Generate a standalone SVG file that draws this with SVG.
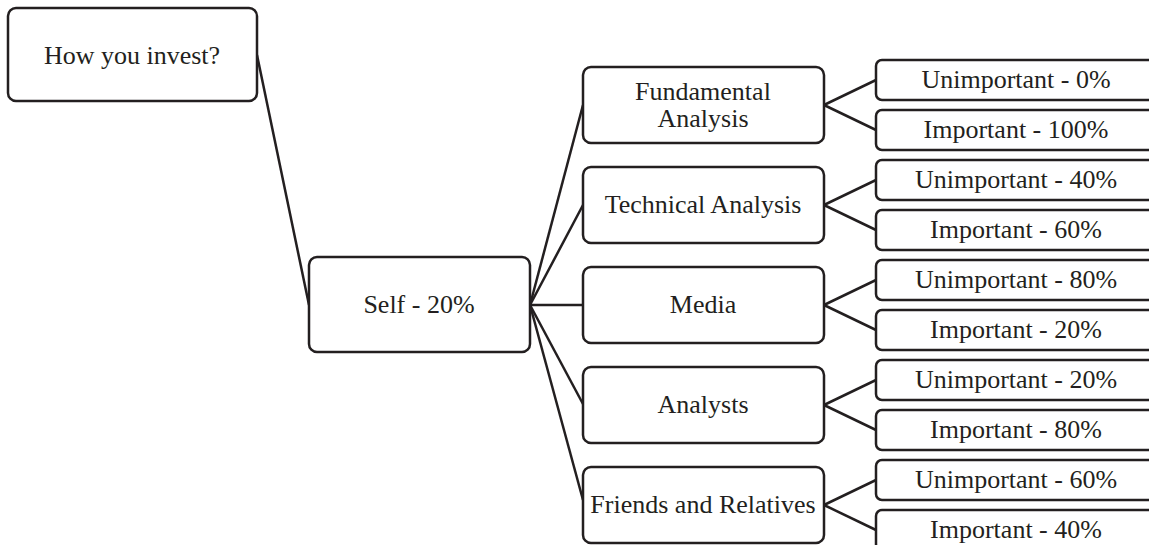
<svg xmlns="http://www.w3.org/2000/svg" width="1149" height="545" viewBox="0 0 1149 545">
<style>
.box{fill:#fff;stroke:#231f20;stroke-width:2.5}
.t{font-family:"Liberation Serif","Times New Roman",serif;font-size:26px;fill:#231f20;text-anchor:middle}
.c{stroke:#231f20;stroke-width:2.5;fill:none}
</style>
<rect width="1149" height="545" fill="#fff"/>
<g id="connectors">
<line class="c" x1="257" y1="55" x2="309" y2="305"/>
<line class="c" x1="530" y1="305" x2="583" y2="105"/>
<line class="c" x1="530" y1="305" x2="583" y2="205"/>
<line class="c" x1="530" y1="305" x2="583" y2="305"/>
<line class="c" x1="530" y1="305" x2="583" y2="404"/>
<line class="c" x1="530" y1="305" x2="583" y2="500"/>
<line class="c" x1="824" y1="105" x2="876" y2="80"/>
<line class="c" x1="824" y1="105" x2="876" y2="130"/>
<line class="c" x1="824" y1="205" x2="876" y2="180"/>
<line class="c" x1="824" y1="205" x2="876" y2="230"/>
<line class="c" x1="824" y1="305" x2="876" y2="280"/>
<line class="c" x1="824" y1="305" x2="876" y2="330"/>
<line class="c" x1="824" y1="405" x2="876" y2="380"/>
<line class="c" x1="824" y1="405" x2="876" y2="430"/>
<line class="c" x1="824" y1="505" x2="876" y2="480"/>
<line class="c" x1="824" y1="505" x2="876" y2="530"/>
</g>
<g id="root"><rect class="box" x="8" y="8" width="249" height="93" rx="8"/><text class="t" x="132" y="64">How you invest?</text></g>
<g id="self"><rect class="box" x="309" y="257" width="221" height="95" rx="8"/><text class="t" x="419" y="313">Self - 20%</text></g>
<g id="fundamental"><rect class="box" x="583" y="67" width="241" height="76" rx="8"/><text class="t" x="703" y="100">Fundamental</text><text class="t" x="703" y="127">Analysis</text></g>
<g id="technical"><rect class="box" x="583" y="167" width="241" height="76" rx="8"/><text class="t" x="703" y="213">Technical Analysis</text></g>
<g id="media"><rect class="box" x="583" y="267" width="241" height="76" rx="8"/><text class="t" x="703" y="313">Media</text></g>
<g id="analysts"><rect class="box" x="583" y="367" width="241" height="76" rx="8"/><text class="t" x="703" y="413">Analysts</text></g>
<g id="friends"><rect class="box" x="583" y="467" width="241" height="76" rx="8"/><text class="t" x="703" y="513">Friends and Relatives</text></g>
<g id="fa-u"><rect class="box" x="876" y="60" width="290" height="40" rx="6"/><text class="t" x="1016" y="88">Unimportant - 0%</text></g>
<g id="fa-i"><rect class="box" x="876" y="110" width="290" height="40" rx="6"/><text class="t" x="1016" y="138">Important - 100%</text></g>
<g id="ta-u"><rect class="box" x="876" y="160" width="290" height="40" rx="6"/><text class="t" x="1016" y="188">Unimportant - 40%</text></g>
<g id="ta-i"><rect class="box" x="876" y="210" width="290" height="40" rx="6"/><text class="t" x="1016" y="238">Important - 60%</text></g>
<g id="me-u"><rect class="box" x="876" y="260" width="290" height="40" rx="6"/><text class="t" x="1016" y="288">Unimportant - 80%</text></g>
<g id="me-i"><rect class="box" x="876" y="310" width="290" height="40" rx="6"/><text class="t" x="1016" y="338">Important - 20%</text></g>
<g id="an-u"><rect class="box" x="876" y="360" width="290" height="40" rx="6"/><text class="t" x="1016" y="388">Unimportant - 20%</text></g>
<g id="an-i"><rect class="box" x="876" y="410" width="290" height="40" rx="6"/><text class="t" x="1016" y="438">Important - 80%</text></g>
<g id="fr-u"><rect class="box" x="876" y="460" width="290" height="40" rx="6"/><text class="t" x="1016" y="488">Unimportant - 60%</text></g>
<g id="fr-i"><rect class="box" x="876" y="510" width="290" height="40" rx="6"/><text class="t" x="1016" y="538">Important - 40%</text></g>
</svg>
